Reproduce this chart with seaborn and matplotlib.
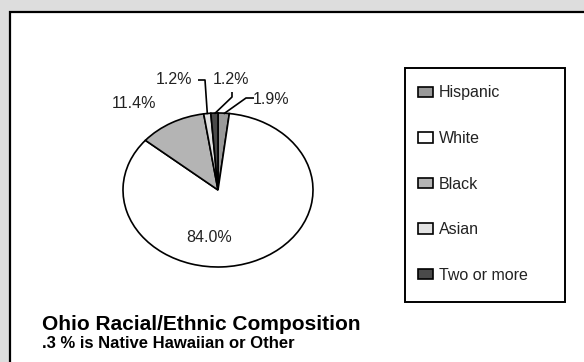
import matplotlib
matplotlib.use("Agg")
import matplotlib.pyplot as plt
from matplotlib.patches import Rectangle
import numpy as np
import seaborn as sns

# Ohio racial/ethnic shares (percent)
groups = ["Hispanic", "White", "Black", "Asian", "Two or more"]
shares = [1.9, 84.0, 11.4, 1.2, 1.2]
labels = ["1.9%", "84.0%", "11.4%", "1.2%", "1.2%"]
colors = ["#999999", "#ffffff", "#b4b4b4", "#e2e2e2", "#4a4a4a"]
title = "Ohio Racial/Ethnic Composition"
note = ".3 % is Native Hawaiian or Other"

sns.set_theme(style="white")
plt.rcParams["font.family"] = ["Liberation Sans", "DejaVu Sans"]

W, H = 584, 362
fig = plt.figure(figsize=(W / 100, H / 100), dpi=100, facecolor="#dddddd")


def fx(px):
    return px / W


def fy(py):
    return 1 - py / H


# White panel with black frame
fig.patches.append(Rectangle((fx(10), fy(400)), 1.0, fy(12) - fy(400),
                             transform=fig.transFigure, facecolor="white",
                             edgecolor="black", linewidth=1.6, zorder=-5))

# Legend box
fig.patches.append(Rectangle((fx(405), fy(302)), fx(565) - fx(405), fy(68) - fy(302),
                             transform=fig.transFigure, facecolor="white",
                             edgecolor="black", linewidth=1.4, zorder=-4))

# Pie axes (elliptical pie)
cx, cy, rx, ry = 218, 190, 95, 77
ax = fig.add_axes([fx(cx - rx), fy(cy + ry), 2 * rx / W, 2 * ry / H])
ax.set_facecolor("none")
ax.set_zorder(2)
wedges, _ = ax.pie(shares, colors=colors, startangle=90, counterclock=False,
                   radius=1.0,
                   wedgeprops=dict(edgecolor="black", linewidth=1.2))
ax.set_aspect("auto")
ax.set_xlim(-1, 1)
ax.set_ylim(-1, 1)
ax.axis("off")


def to_data(px, py):
    return (px - cx) / rx, (cy - py) / ry


def mid_point(w, r=1.0):
    a = np.deg2rad((w.theta1 + w.theta2) / 2)
    return r * np.cos(a), r * np.sin(a)


txt_kw = dict(fontsize=11.5, color="#222222", ha="center", va="center")

# Label positions (pixel space) for each wedge
label_px = [(271, 99), (209, 238), (134, 104), (174, 79), (231, 79)]
for lab, (px, py) in zip(labels, label_px):
    x, y = to_data(px, py)
    ax.text(x, y, lab, clip_on=False, **txt_kw)

# Leader lines for the thin wedges
elbows = {
    0: [(254, 98), (246, 98)],
    3: [(198, 80), (205, 80)],
    4: [(232, 92), (232, 97)],
}
for i, pts in elbows.items():
    xs, ys = zip(*[to_data(*p) for p in pts])
    mx, my = mid_point(wedges[i], 0.99)
    ax.plot(list(xs) + [mx], list(ys) + [my], color="black", lw=1.2,
            clip_on=False, solid_capstyle="butt")

leg = fig.legend(wedges, groups, loc="upper left",
                 bbox_to_anchor=(fx(418), fy(85.5)), frameon=False,
                 fontsize=11.5, labelspacing=1.91, handlelength=0.94,
                 handleheight=0.62, handletextpad=0.38, borderpad=0,
                 borderaxespad=0)
for t in leg.get_texts():
    t.set_color("#222222")

# Titles
fig.text(fx(42), fy(330), title, fontsize=15, fontweight="bold",
         ha="left", va="baseline", color="black")
fig.text(fx(42), fy(348), note, fontsize=12, fontweight="bold",
         ha="left", va="baseline", color="black")

fig.savefig("out.png", dpi=100, facecolor=fig.get_facecolor())
